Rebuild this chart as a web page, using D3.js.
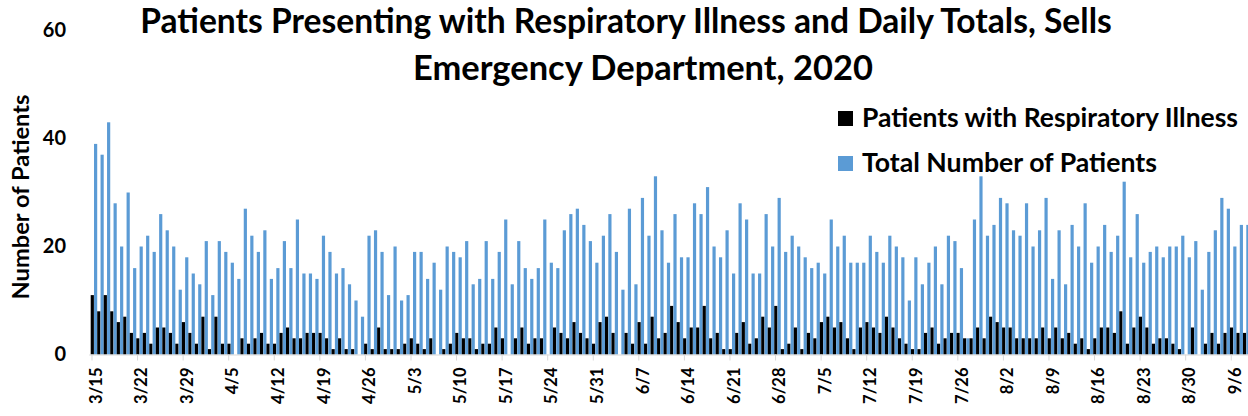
<!DOCTYPE html>
<html><head><meta charset="utf-8">
<script src="https://cdn.jsdelivr.net/npm/d3@7"></script>
<style>
body{margin:0;background:#fff}
svg{display:block}
text{font-family:Lato,"Open Sans",sans-serif;font-weight:700;fill:#000}
</style>
</head><body>
<svg id="c" width="1248" height="416"></svg>
<script>
const startDate = new Date(2020, 2, 15);
const respiratory = [11,8,11,8,6,7,4,3,4,2,5,5,4,2,6,4,2,7,1,7,2,2,0,3,2,3,4,2,2,4,
5,3,3,4,4,4,3,1,3,1,1,0,2,1,5,1,1,1,2,3,2,1,3,0,1,2,4,3,3,1,
2,2,5,3,0,3,5,2,3,3,0,5,4,3,6,4,3,2,6,7,4,0,4,2,6,2,7,3,4,9,
6,3,5,5,9,3,4,1,1,4,6,2,3,7,5,9,1,2,5,1,4,3,6,7,5,6,3,1,5,6,
5,4,7,5,3,2,1,1,4,5,2,3,4,4,3,3,5,3,7,6,5,5,3,3,3,3,5,3,5,3,
4,2,3,1,3,5,5,4,8,2,5,7,5,2,3,3,2,1,0,5,0,2,4,2,4,5,4,4];
const totals = [39,37,43,28,20,30,16,20,22,19,26,23,20,12,18,15,13,21,11,21,19,17,14,27,22,19,23,14,16,21,
16,25,15,15,14,22,19,15,16,13,10,7,22,23,19,11,20,10,11,19,19,14,17,12,20,19,18,21,13,14,
21,14,19,25,13,21,16,14,16,25,17,16,23,26,27,24,21,17,22,26,19,12,27,13,29,22,33,23,17,26,
18,18,28,26,31,20,18,23,15,28,25,15,15,26,20,29,19,22,20,18,16,17,15,25,20,22,17,17,17,22,
19,17,22,20,18,10,18,13,17,20,13,22,21,16,3,25,33,22,24,29,28,23,22,28,20,23,29,14,23,13,
24,20,28,17,20,24,19,22,32,18,26,17,19,20,18,20,20,22,18,21,12,19,23,29,27,20,24,24];
const tickLabels = ["3/15","3/22","3/29","4/5","4/12","4/19","4/26","5/3","5/10","5/17","5/24","5/31","6/7","6/14","6/21","6/28","7/5","7/12","7/19","7/26","8/2","8/9","8/16","8/23","8/30","9/6"];
const yTicks = [0,20,40,60];
const seriesNames = ["Patients with Respiratory Illness","Total Number of Patients"];
const seriesColors = ["#000000","#5b9bd5"];
const titleLines = ["Patients Presenting with Respiratory Illness and Daily Totals, Sells","Emergency Department, 2020"];
const yTitle = "Number of Patients";

const fmt = d3.timeFormat("%-m/%-d");
const dates = d3.timeDay.range(startDate, d3.timeDay.offset(startDate, totals.length)).map(fmt);
const rows = dates.map((d,i)=>({date:d, values:[respiratory[i], totals[i]]}));

const svg = d3.select("#c");
const step = 6.51;
const x = d3.scaleBand().domain(dates).range([90.7, 90.7 + step*dates.length]).paddingInner(0).paddingOuter(0);
const xs = d3.scaleBand().domain([0,1]).range([0, x.bandwidth()]).paddingInner(0.04);
const y = d3.scaleLinear().domain([0,60]).range([354.5, 30.5]);

function fit(sel, w){
  const L = sel.node().getComputedTextLength();
  const fs = parseFloat(sel.style("font-size"));
  sel.style("font-size", (fs*w/L)+"px");
}

// bars
const g = svg.append("g");
const day = g.selectAll("g.day").data(rows).join("g").attr("class","day")
  .attr("transform", d=>`translate(${x(d.date)},0)`);
day.selectAll("rect").data(d=>d.values.map((v,k)=>({k,v}))).join("rect")
  .attr("x", d=>xs(d.k)).attr("width", xs.bandwidth())
  .attr("y", d=>y(d.v)).attr("height", d=>y(0)-y(d.v))
  .attr("fill", d=>seriesColors[d.k]);

// x axis
const xAxis = d3.axisBottom(x).tickValues(dates.filter(d=>tickLabels.includes(d))).tickSize(6).tickSizeOuter(0);
const ax = svg.append("g").attr("transform", `translate(${-x.bandwidth()/2+1.3},${y(0)})`).call(xAxis);
ax.select(".domain").attr("stroke","#d9d9d9").attr("stroke-width",1);
ax.selectAll(".tick line").attr("stroke","#d9d9d9");
ax.selectAll(".tick text").attr("transform","rotate(-90)").attr("x",-13).attr("y",4).attr("dy","0.35em")
  .style("text-anchor","end").style("font-size","16.5px").style("font-family","Lato,sans-serif").style("font-weight","700").attr("fill","#000");

// y axis
const yAxis = d3.axisLeft(y).tickValues(yTicks).tickSize(0).tickPadding(0);
const ay = svg.append("g").attr("transform","translate(66,0)").call(yAxis);
ay.select(".domain").remove();
ay.selectAll(".tick text").style("font-size","20px").style("font-family","Lato,sans-serif").style("font-weight","700").attr("fill","#000");

// y title
const yt = svg.append("text").attr("transform","translate(29,197) rotate(-90)").attr("text-anchor","middle")
  .style("font-size","20px").text(yTitle);
fit(yt, 205);

// title
const t1 = svg.append("text").attr("x",626).attr("y",33).attr("text-anchor","middle").style("font-size","30px").text(titleLines[0]);
fit(t1, 972);
const t2 = svg.append("text").attr("x",643).attr("y",80).attr("text-anchor","middle").style("font-size","30px").text(titleLines[1]);
fit(t2, 460);

// legend
const legY = [111, 156];
const legW = [376, 295];
const leg = svg.append("g");
seriesNames.forEach((n,k)=>{
  leg.append("rect").attr("x",838).attr("y",legY[k]).attr("width",15).attr("height",15).attr("fill",seriesColors[k]);
  const t = leg.append("text").attr("x",862).attr("y",legY[k]+16).style("font-size","22px").text(n);
  fit(t, legW[k]);
});
</script>
</body></html>
